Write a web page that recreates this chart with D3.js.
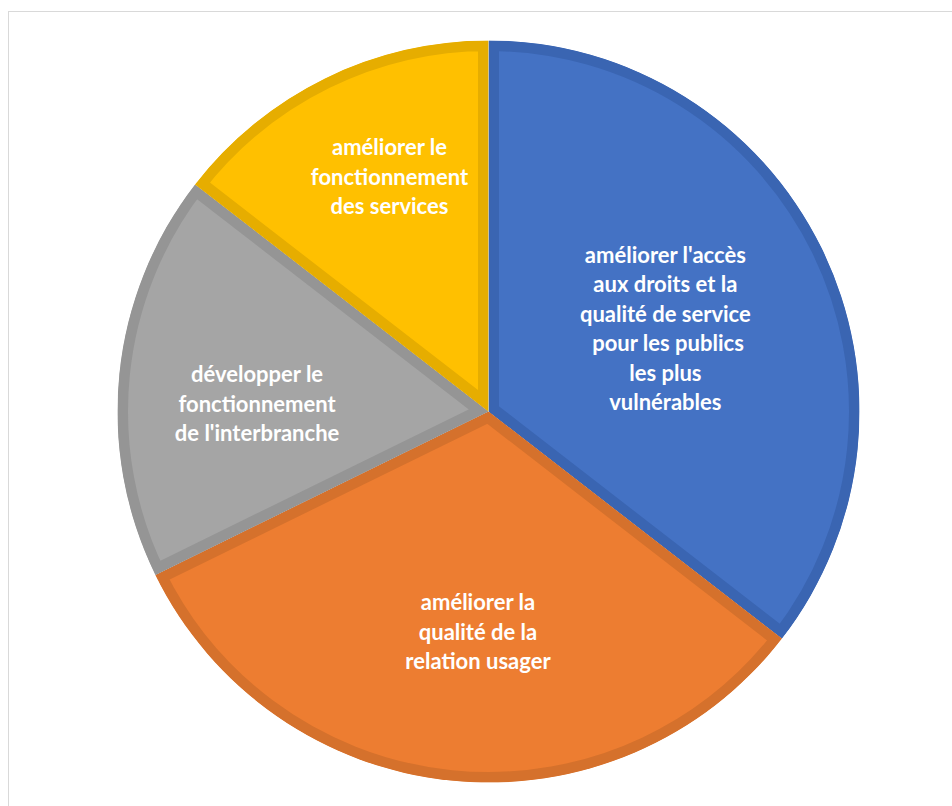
<!DOCTYPE html>
<html>
<head>
<meta charset="utf-8">
<script src="https://cdn.jsdelivr.net/npm/d3@7"></script>
<style>
  html, body { margin: 0; padding: 0; background: #ffffff; }
  svg { display: block; }
  text { white-space: pre; }
</style>
</head>
<body>
<script>
// Répartition des actions par axe
const categories = [
  "améliorer l'accès\naux droits et la\nqualité de service\n pour les publics\nles plus\nvulnérables",
  "améliorer la\nqualité de la\nrelation usager",
  "développer le\nfonctionnement\nde l'interbranche",
  "améliorer le\nfonctionnement\ndes services"
];
const values = [22, 20, 11, 9];

const fills = ["#4472C4", "#ED7D31", "#A5A5A5", "#FFC000"];
const edges = ["#3A65B2", "#D5712C", "#959595", "#E6AD00"];
// nudges of each label block from its arc centroid
const labelShift = [[-23, 16], [12, 0], [-10, 16], [-1, -34]];

const W = 952, H = 806;
const cx = 488.5, cy = 411.5, R = 371;
const lineH = 29.5;

const svg = d3.select("body").append("svg")
  .attr("width", W).attr("height", H);

// chart area frame
svg.append("rect")
  .attr("x", 8.5).attr("y", 11.5)
  .attr("width", W + 20).attr("height", H + 20)
  .attr("fill", "#ffffff")
  .attr("stroke", "#D9D9D9").attr("stroke-width", 1);

const pie = d3.pie().sort(null).value(d => d.value);
const arcs = pie(values.map((v, i) => ({ value: v, i })));

const arc = d3.arc().innerRadius(0).outerRadius(R);
const labelArc = d3.arc().innerRadius(R * 0.6).outerRadius(R * 0.6);

const g = svg.append("g").attr("transform", `translate(${cx},${cy})`);
const defs = svg.append("defs");

arcs.forEach((a, i) => {
  defs.append("clipPath").attr("id", "slice" + i)
    .append("path").attr("d", arc(a));
});

// slices with an inner darker rim
g.selectAll("path.slice")
  .data(arcs)
  .join("path")
  .attr("class", "slice")
  .attr("d", arc)
  .attr("fill", d => fills[d.data.i])
  .attr("stroke", d => edges[d.data.i])
  .attr("stroke-width", 21)
  .attr("stroke-linejoin", "miter")
  .attr("clip-path", d => `url(#slice${d.data.i})`);

// labels
arcs.forEach((a, i) => {
  const [lx, ly] = labelArc.centroid(a);
  const lines = categories[i].split("\n");
  const x = lx + labelShift[i][0];
  const yMid = ly + labelShift[i][1];
  const t = g.append("text")
    .attr("text-anchor", "middle")
    .attr("font-family", "Lato, 'Open Sans', sans-serif")
    .attr("font-weight", "bold")
    .attr("font-size", 22)
    .attr("fill", "#ffffff");
  lines.forEach((ln, k) => {
    t.append("tspan")
      .attr("x", x)
      .attr("y", yMid + (k - (lines.length - 1) / 2) * lineH + 7)
      .text(ln);
  });
});
</script>
</body>
</html>
